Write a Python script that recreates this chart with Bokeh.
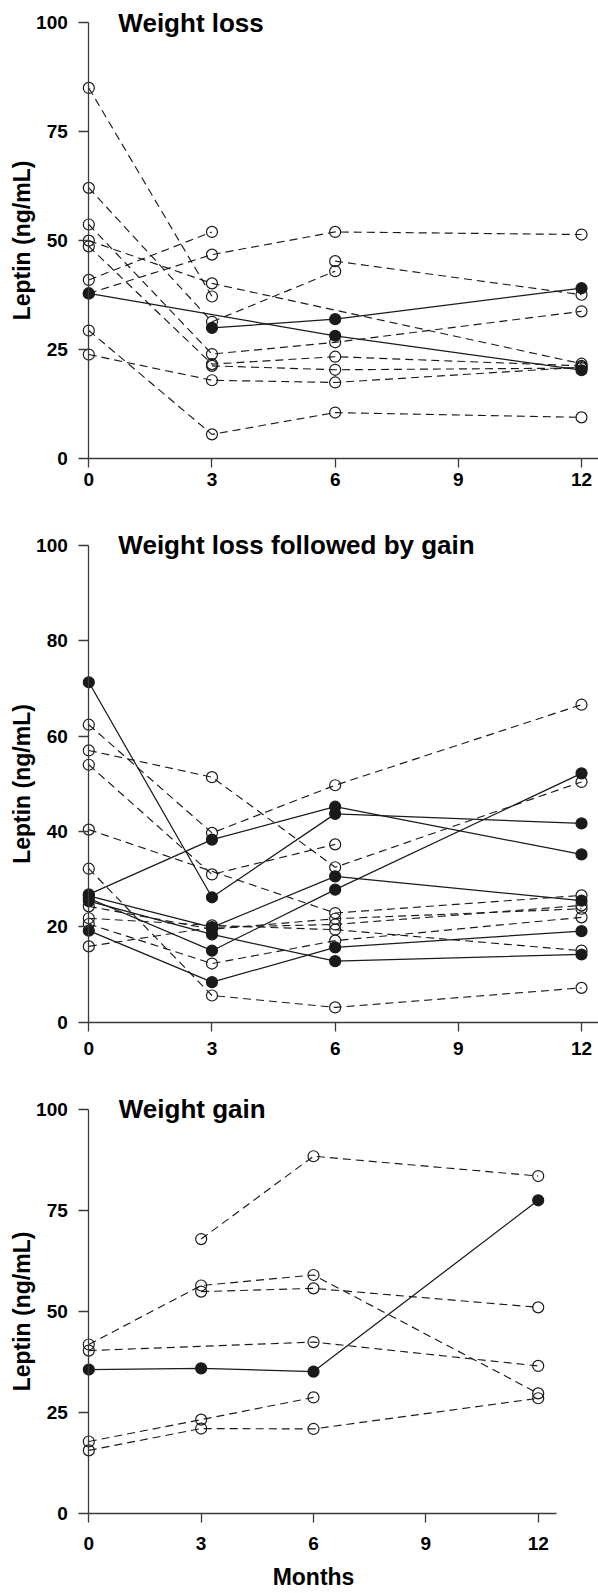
from bokeh.plotting import figure
from bokeh.layouts import column
from bokeh.models import FixedTicker, Label, Range1d
from bokeh.embed import file_html
from bokeh.resources import INLINE

N = None
MONTHS = [0, 3, 6, 12]
X_TICKS = [0, 3, 6, 9, 12]

# ---- Weight loss ----
loss_title = "Weight loss"
loss_yticks = [0, 25, 50, 75, 100]
loss_open = [
    [85.0, 37.2, N, N],
    [62.1, 31.4, 43.0, N],
    [53.7, 24.0, 26.7, 33.8],
    [50.0, 40.2, N, 21.8],
    [48.7, 21.7, 23.4, 21.3],
    [N, 21.3, 20.4, 20.8],
    [41.0, 52.0, N, N],
    [37.9, 46.8, 52.0, 51.4],
    [N, N, 45.3, 37.6],
    [29.4, 5.6, 10.6, 9.5],
    [23.9, 18.0, 17.5, 21.0],
]
loss_filled = [
    [37.9, N, 28.2, 20.3],
    [N, 30.0, 32.0, 39.1],
]

# ---- Weight loss followed by gain ----
lg_title = "Weight loss followed by gain"
lg_yticks = [0, 20, 40, 60, 80, 100]
lg_open = [
    [62.4, 39.7, 49.7, 66.6],
    [57.0, 51.4, 32.5, 50.4],
    [54.0, 31.0, 37.3, N],
    [40.4, N, 22.9, 26.6],
    [32.2, 5.6, 3.1, 7.2],
    [24.3, 19.5, 21.7, 23.8],
    [21.8, 20.3, 19.4, 15.0],
    [20.6, 12.3, 17.1, 22.0],
    [15.9, 19.9, 20.5, 24.5],
]
lg_filled = [
    [71.3, 26.2, 43.7, 41.7],
    [26.8, 38.3, 45.2, 35.2],
    [26.5, 19.9, 30.6, 25.5],
    [26.0, 15.0, 27.8, 52.2],
    [25.4, 18.4, 12.8, 14.2],
    [19.2, 8.4, 15.7, 19.1],
]

# ---- Weight gain ----
gain_title = "Weight gain"
gain_yticks = [0, 25, 50, 75, 100]
gain_open = [
    [N, 68.0, 88.5, 83.6],
    [41.9, 56.5, 59.1, 29.8],
    [N, 55.0, 55.8, 51.1],
    [40.4, N, 42.5, 36.6],
    [17.9, 23.3, 28.8, N],
    [15.7, 21.1, 21.0, 28.6],
]
gain_filled = [
    [35.7, 36.0, 35.2, 77.6],
]

FONT = "Liberation Sans"
INK = "#1a1a1a"
AXC = "#3a3a3a"


def make_panel(title, yticks, open_rows, filled_rows, height, xr, yr,
               title_xy, x_standoff, months_y=None):
    p = figure(width=598, height=height, x_range=Range1d(*xr), y_range=Range1d(*yr),
               output_backend="svg", toolbar_location=None,
               min_border_left=0, min_border_right=0,
               min_border_top=0, min_border_bottom=0)
    p.outline_line_color = None
    p.grid.visible = False
    p.background_fill_color = "white"
    p.border_fill_color = "white"

    p.xaxis.fixed_location = 0
    p.yaxis.fixed_location = 0
    p.xaxis.bounds = (0, 12.5)
    p.yaxis.bounds = (0, 100)
    p.xaxis.ticker = FixedTicker(ticks=X_TICKS)
    p.yaxis.ticker = FixedTicker(ticks=yticks)
    for ax in (p.xaxis, p.yaxis):
        ax.axis_line_color = AXC
        ax.axis_line_width = 1.3
        ax.major_tick_line_color = AXC
        ax.major_tick_line_width = 1.3
        ax.major_tick_in = 0
        ax.minor_tick_line_color = None
        ax.major_label_text_font = FONT
        ax.major_label_text_font_style = "bold"
        ax.major_label_text_font_size = "19px"
        ax.major_label_text_color = "black"
        ax.axis_label_text_font = FONT
        ax.axis_label_text_font_style = "bold"
        ax.axis_label_text_font_size = "23px"
        ax.axis_label_text_color = "black"
    p.yaxis.major_tick_out = 10
    p.xaxis.major_tick_out = 9
    p.yaxis.major_label_standoff = 11
    p.xaxis.major_label_standoff = x_standoff
    p.yaxis.axis_label = "Leptin (ng/mL)"
    p.yaxis.axis_label_standoff = -2

    for row in open_rows:
        xs = [m for m, v in zip(MONTHS, row) if v is not None]
        ys = [v for v in row if v is not None]
        p.line(xs, ys, line_color=INK, line_width=1.15, line_dash="8 5")
        p.scatter(xs, ys, marker="circle", size=11, fill_color=None,
                  line_color=INK, line_width=1.2)
    for row in filled_rows:
        xs = [m for m, v in zip(MONTHS, row) if v is not None]
        ys = [v for v in row if v is not None]
        p.line(xs, ys, line_color=INK, line_width=1.25)
        p.scatter(xs, ys, marker="circle", size=11, fill_color=INK,
                  line_color=INK, line_width=1.2)

    p.add_layout(Label(x=title_xy[0], y=title_xy[1], text=title, text_font=FONT,
                       text_font_size="26px", text_font_style="bold",
                       text_color="black", text_align="left",
                       text_baseline="alphabetic"))
    if months_y is not None:
        p.add_layout(Label(x=6, y=months_y, text="Months", text_font=FONT,
                           text_font_size="23px", text_font_style="bold",
                           text_color="black", text_align="center",
                           text_baseline="alphabetic"))
    return p


# panel 1: x0 at 88.3, 41.06 px/month; y 100 at 22, 0 at 458.3 (4.363 px/unit)
p1 = make_panel(loss_title, loss_yticks, loss_open, loss_filled, 520,
                (-2.1505, 12.4136), (-14.14, 105.04), (0.72, 99.85), 5)
# panel 2: y 100 at 545, 0 at 1021.7 (4.767 px/unit), top at 520
p2 = make_panel(lg_title, lg_yticks, lg_open, lg_filled, 565,
                (-2.1505, 12.4136), (-13.28, 105.24), (0.72, 100.2), 11)
# panel 3: x 37.45 px/month; y 100 at 1109.3, 0 at 1513.3 (4.04 px/unit), top at 1085
p3 = make_panel(gain_title, gain_yticks, gain_open, gain_filled, 508,
                (-2.358, 13.61), (-19.73, 106.01), (0.80, 100.1), 14,
                months_y=-15.7)

layout = column(p1, p2, p3)
open("out.html", "w").write(file_html(layout, INLINE))
